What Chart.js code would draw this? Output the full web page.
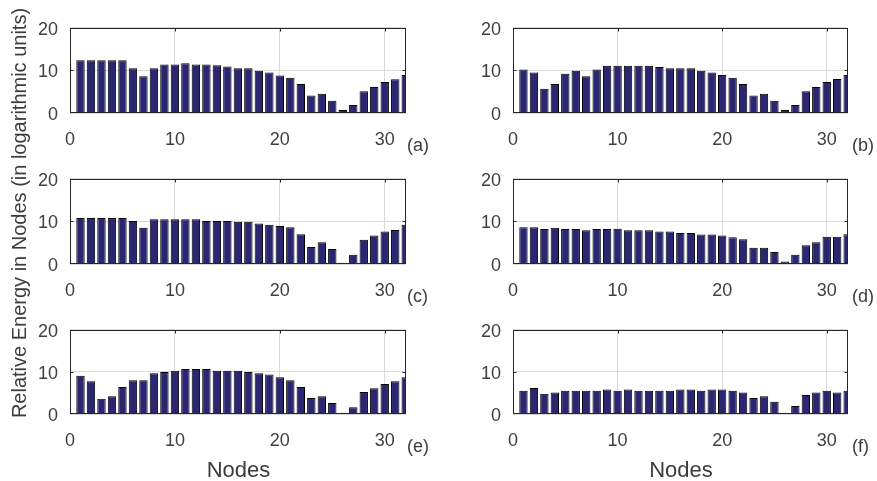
<!DOCTYPE html>
<html><head><meta charset="utf-8">
<script src="https://cdn.jsdelivr.net/npm/chart.js@4/dist/chart.umd.min.js"></script>
<style>
html,body{margin:0;padding:0;background:#fff;}
#wrap{position:relative;width:877px;height:481px;overflow:hidden;font-family:"Liberation Sans",Arial,sans-serif;color:#3c3c3c;}
canvas{position:absolute;}
.lbl{position:absolute;font-size:18px;line-height:18px;white-space:nowrap;}
.nodes{position:absolute;font-size:22px;line-height:22px;width:200px;text-align:center;}
#ytitle{position:absolute;font-size:20px;line-height:22px;width:440px;text-align:center;left:-201px;top:202px;transform:rotate(-90deg);white-space:nowrap;}
</style></head>
<body><div id="wrap">
<canvas id="ca"></canvas><canvas id="cb"></canvas><canvas id="cc"></canvas>
<canvas id="cd"></canvas><canvas id="ce"></canvas><canvas id="cf"></canvas>
<div id="ytitle">Relative Energy in Nodes (in logarithmic units)</div>
</div>
<script>
// ---- data ----
const nodes = [1,2,3,4,5,6,7,8,9,10,11,12,13,14,15,16,17,18,19,20,21,22,23,24,25,26,27,28,29,30,31,32];
const energyA = [12.4,12.4,12.4,12.4,12.4,10.5,8.6,10.5,11.4,11.4,11.7,11.4,11.4,11.2,10.9,10.5,10.5,9.9,9.5,8.8,8.3,6.8,4.1,4.5,2.9,0.7,1.9,5.1,6.1,7.3,7.9,8.9];
const energyB = [10.2,9.5,5.7,6.8,9.2,9.9,8.6,10.2,11.1,11.1,11.1,11.1,11.1,10.8,10.5,10.5,10.5,9.9,9.5,8.9,8.3,6.8,4.1,4.5,2.9,0.7,1.9,5.1,6.1,7.3,8.0,8.9];
const energyC = [10.8,10.8,10.8,10.8,10.8,10.1,8.5,10.5,10.5,10.5,10.5,10.5,10.1,10.1,10.1,9.9,9.9,9.5,9.2,8.9,8.6,7.0,4.0,5.1,3.5,0.3,2.2,5.7,6.7,7.6,8.0,9.2];
const energyD = [8.6,8.6,8.2,8.5,8.2,8.2,7.9,8.2,8.2,8.3,7.9,7.9,7.9,7.6,7.6,7.3,7.3,6.9,6.9,6.7,6.3,5.8,3.8,3.8,2.8,0.6,2.2,4.4,5.1,6.4,6.4,7.0];
const energyE = [9.1,7.8,3.6,4.2,6.4,8.0,8.0,9.7,10.0,10.3,10.7,10.7,10.7,10.3,10.3,10.3,10.0,9.7,9.4,8.7,8.0,6.4,3.8,4.2,2.6,0.3,1.6,5.2,6.1,7.1,7.8,8.7];
const energyF = [5.5,6.2,4.8,5.1,5.5,5.5,5.5,5.5,5.8,5.5,5.8,5.5,5.5,5.5,5.5,5.8,5.8,5.5,5.8,5.8,5.5,5.1,3.8,4.2,2.9,0.3,1.9,4.5,5.1,5.5,5.1,5.5];
const xTickValues = [0,10,20,30];
const yTickValues = [0,10,20];
const panelLetters = ['(a)','(b)','(c)','(d)','(e)','(f)'];
const xTitle = 'Nodes';

// ---- drawing ----
const FONT = '"Liberation Sans", Arial, sans-serif';
const Y_W = 60, PAD_T = 12, PAD_R = 4, X_H = 40;

const framePlugin = {
  id: 'frame',
  afterDatasetsDraw(chart) {
    const {ctx, chartArea: a, scales} = chart;
    const l = Math.round(a.left) + 0.5, t = Math.round(a.top) + 0.5;
    const r = Math.round(a.right) - 0.5, b = Math.round(a.bottom) - 0.5;
    ctx.save();
    ctx.strokeStyle = '#262626';
    ctx.lineWidth = 1;
    ctx.strokeRect(l, t, r - l, b - t);
    ctx.beginPath();
    xTickValues.forEach(v => {
      if (v <= scales.x.min || v >= scales.x.max) return;
      const px = Math.round(scales.x.getPixelForValue(v)) + 0.5;
      ctx.moveTo(px, b); ctx.lineTo(px, b - 3);
      ctx.moveTo(px, t); ctx.lineTo(px, t + 3);
    });
    yTickValues.forEach(v => {
      if (v <= scales.y.min || v >= scales.y.max) return;
      const py = Math.round(scales.y.getPixelForValue(v)) + 0.5;
      ctx.moveTo(l, py); ctx.lineTo(l + 3, py);
      ctx.moveTo(r, py); ctx.lineTo(r - 3, py);
    });
    ctx.stroke();
    ctx.restore();
  }
};

function makePanel(id, values, L, T, R, B, letter, showTitle) {
  const cv = document.getElementById(id);
  const w = (R - L) + Y_W + PAD_R, h = (B - T) + PAD_T + X_H;
  cv.width = w; cv.height = h;
  cv.style.left = (L - Y_W) + 'px';
  cv.style.top = (T - PAD_T) + 'px';
  cv.style.width = w + 'px'; cv.style.height = h + 'px';
  new Chart(cv, {
    type: 'bar',
    data: {
      datasets: [{
        data: nodes.map((n, i) => ({x: n, y: values[i]})),
        backgroundColor: '#2a2672',
        borderColor: '#000000',
        borderWidth: 1,
        barPercentage: 0.8,
        categoryPercentage: 1.0,
        clip: 0
      }]
    },
    options: {
      responsive: false,
      animation: false,
      events: [],
      layout: {padding: {top: PAD_T, right: PAD_R, left: 0, bottom: 0}},
      plugins: {legend: {display: false}, tooltip: {enabled: false}},
      scales: {
        x: {
          type: 'linear', min: 0, max: 32, offset: false,
          afterFit: s => { s.height = X_H; },
          afterBuildTicks: s => { s.ticks = xTickValues.map(v => ({value: v})); },
          grid: {color: '#dadada', lineWidth: 1, drawTicks: false, offset: false},
          border: {display: false},
          ticks: {padding: 16, maxRotation: 0, color: '#404040', font: {family: FONT, size: 18}}
        },
        y: {
          min: 0, max: 20,
          afterFit: s => { s.width = Y_W; },
          afterBuildTicks: s => { s.ticks = yTickValues.map(v => ({value: v})); },
          grid: {color: '#dadada', lineWidth: 1, drawTicks: false},
          border: {display: false},
          ticks: {padding: 12, labelOffset: 2, color: '#404040', font: {family: FONT, size: 18}}
        }
      }
    },
    plugins: [framePlugin]
  });
  const wrap = document.getElementById('wrap');
  const lab = document.createElement('div');
  lab.className = 'lbl';
  lab.textContent = letter;
  lab.style.left = (R + (L < 300 ? 0 : 3)) + 'px';
  lab.style.top = (B + 23) + 'px';
  wrap.appendChild(lab);
  if (showTitle) {
    const t = document.createElement('div');
    t.className = 'nodes';
    t.textContent = xTitle;
    t.style.left = ((L + R) / 2 - 100) + 'px';
    t.style.top = '459px';
    wrap.appendChild(t);
  }
}

makePanel('ca', energyA, 70, 17, 407, 113, panelLetters[0], false);
makePanel('cb', energyB, 513, 17, 849, 113, panelLetters[1], false);
makePanel('cc', energyC, 70, 168, 407, 264, panelLetters[2], false);
makePanel('cd', energyD, 513, 168, 849, 264, panelLetters[3], false);
makePanel('ce', energyE, 70, 319, 407, 414, panelLetters[4], true);
makePanel('cf', energyF, 513, 319, 849, 414, panelLetters[5], true);
</script>
</body></html>
